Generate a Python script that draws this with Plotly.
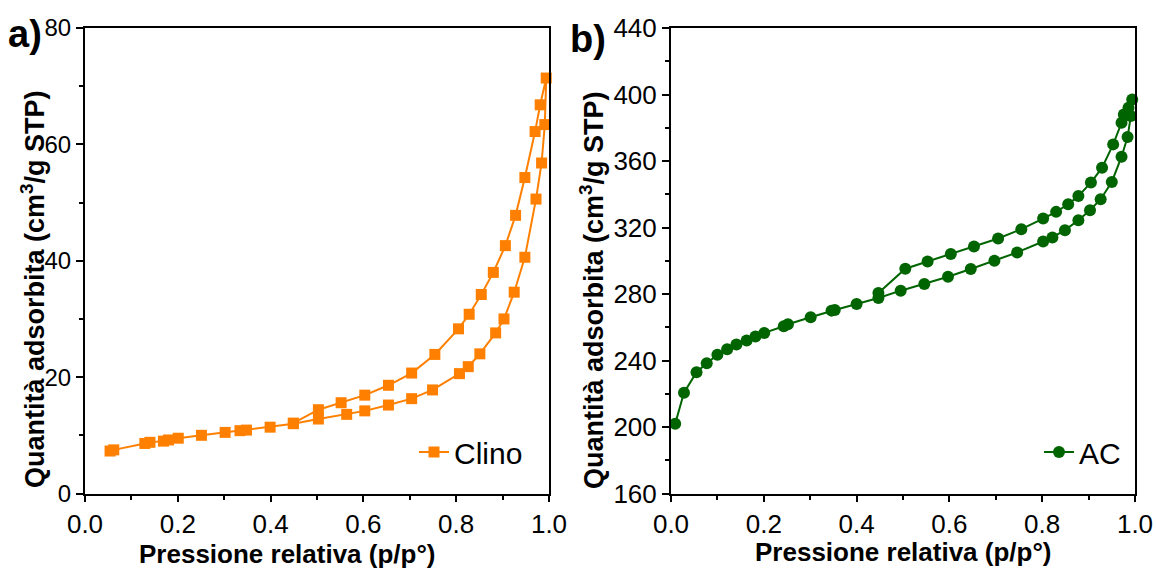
import plotly.graph_objects as go

# Clino: adsorption branch (rising p/p°) followed by desorption branch (falling p/p°)
clino_p = [0.054, 0.062, 0.129, 0.140, 0.169, 0.180, 0.201, 0.251, 0.302, 0.334, 0.348,
           0.399, 0.449, 0.503, 0.564, 0.603, 0.654, 0.704, 0.749, 0.807, 0.826, 0.851,
           0.885, 0.903, 0.925, 0.948, 0.972, 0.984, 0.991, 0.994,
           0.981, 0.970, 0.948, 0.928, 0.906, 0.880, 0.854, 0.828, 0.805, 0.754, 0.704,
           0.654, 0.603, 0.552, 0.503, 0.449]
clino_q = [7.3, 7.5, 8.6, 8.8, 9.0, 9.2, 9.5, 10.0, 10.5, 10.8, 10.9,
           11.4, 12.0, 12.8, 13.6, 14.2, 15.2, 16.3, 17.8, 20.6, 21.8, 24.0,
           27.6, 30.0, 34.6, 40.6, 50.6, 56.8, 63.4, 71.4,
           66.8, 62.2, 54.3, 47.8, 42.6, 38.0, 34.2, 30.8, 28.3, 23.9, 20.7,
           18.6, 16.9, 15.6, 14.4, 12.1]

# AC: adsorption branch followed by desorption branch
ac_p = [0.009, 0.028, 0.055, 0.077, 0.100, 0.121, 0.141, 0.163, 0.182, 0.201, 0.243,
        0.252, 0.301, 0.346, 0.353, 0.400, 0.447, 0.495, 0.546, 0.597, 0.646, 0.697,
        0.746, 0.802, 0.822, 0.849, 0.878, 0.903, 0.926, 0.950, 0.971, 0.984, 0.991,
        0.994,
        0.986, 0.976, 0.971, 0.953, 0.929, 0.905, 0.878, 0.856, 0.830, 0.802, 0.755,
        0.705, 0.653, 0.603, 0.553, 0.505, 0.447]
ac_q = [202.0, 220.6, 233.0, 238.4, 243.4, 246.8, 249.6, 252.0, 254.4, 256.6, 260.6,
        261.8, 266.0, 270.0, 270.4, 274.0, 277.6, 282.0, 286.0, 290.4, 295.0, 300.0,
        305.0, 311.6, 314.0, 318.4, 324.4, 330.4, 337.0, 347.4, 362.6, 374.4, 387.0,
        397.0,
        392.0, 388.0, 383.0, 370.0, 356.0, 347.0, 339.0, 334.0, 329.4, 325.4, 319.0,
        313.4, 308.6, 304.0, 299.6, 295.2, 280.6]

x_ticks = [0.0, 0.2, 0.4, 0.6, 0.8, 1.0]
x_ticklabels = ["0.0", "0.2", "0.4", "0.6", "0.8", "1.0"]
ya_ticks = [0, 20, 40, 60, 80]
yb_ticks = [160, 200, 240, 280, 320, 360, 400, 440]

x_title = "<b>Pressione relativa (p/p°)</b>"
y_title = "<b>Quantità adsorbita (cm<sup>3</sup>/g STP)</b>"

ORANGE = "#FF8000"
GREEN = "#006400"
FONT = "Liberation Sans"

fig = go.Figure()
fig.add_trace(go.Scatter(
    x=clino_p, y=clino_q, name="Clino", mode="lines+markers",
    line=dict(color=ORANGE, width=2),
    marker=dict(symbol="square", size=11, color=ORANGE),
    cliponaxis=False, xaxis="x", yaxis="y", legend="legend", showlegend=True))
fig.add_trace(go.Scatter(
    x=ac_p, y=ac_q, name="AC", mode="lines+markers",
    line=dict(color=GREEN, width=2),
    marker=dict(symbol="circle", size=12, color=GREEN),
    cliponaxis=False, xaxis="x2", yaxis="y2", legend="legend2", showlegend=True))

W, H = 1156, 569
top, bottom = 28, 493.5
ydom = [1 - bottom / H, 1 - top / H]


def px(x):
    return x / W


def py(y):
    return 1 - y / H


common_axis = dict(
    showline=True, linewidth=2, linecolor="black", mirror=True,
    ticks="outside", ticklen=7, tickwidth=2, tickcolor="black",
    showgrid=False, zeroline=False, automargin=False,
    tickfont=dict(family=FONT, size=26, color="black"),
)
xa = dict(common_axis, range=[0, 1], tickvals=x_ticks, ticktext=x_ticklabels, ticklen=6,
          minor=dict(ticks="outside", ticklen=4, tickwidth=2, tickcolor="black",
                     dtick=0.1, tick0=0, showgrid=False))

legend_style = dict(yanchor="middle", xanchor="right", bgcolor="rgba(0,0,0,0)",
                    borderwidth=0, font=dict(family=FONT, size=30, color="black"))


def label(text, x, y, size, angle=0, xanchor="center"):
    return dict(text=text, x=px(x), y=py(y), xref="paper", yref="paper",
                xanchor=xanchor, yanchor="middle", showarrow=False, textangle=angle,
                borderpad=0, font=dict(family=FONT, size=size, color="black"))


fig.update_layout(
    width=W, height=H,
    showlegend=True,
    margin=dict(l=0, r=0, t=0, b=0, autoexpand=False),
    paper_bgcolor="white", plot_bgcolor="white",
    xaxis=dict(xa, domain=[px(85), px(549)], anchor="y"),
    yaxis=dict(common_axis, domain=ydom, range=[0, 80], tickvals=ya_ticks, anchor="x",
               tickfont=dict(family=FONT, size=24, color="black"),
               minor=dict(ticks="outside", ticklen=4, tickwidth=2, tickcolor="black",
                          dtick=10, tick0=0, showgrid=False)),
    xaxis2=dict(xa, domain=[px(671), px(1135)], anchor="y2"),
    yaxis2=dict(common_axis, domain=ydom, range=[160, 440], tickvals=yb_ticks, anchor="x2",
                minor=dict(ticks="outside", ticklen=4, tickwidth=2, tickcolor="black",
                           dtick=20, tick0=160, showgrid=False)),
    legend=dict(legend_style, x=px(528), y=py(452)),
    legend2=dict(legend_style, x=px(1126), y=py(452)),
    annotations=[
        label("<b>a)</b>", 7, 34, 38, xanchor="left"),
        label("<b>b)</b>", 569, 39, 38, xanchor="left"),
        label(x_title, 287, 554, 26),
        label(x_title, 903, 552, 26),
        label(y_title, 33, 289, 27, angle=-90),
        label(y_title, 592, 290, 27, angle=-90),
    ],
)

fig.write_html("out.html")
